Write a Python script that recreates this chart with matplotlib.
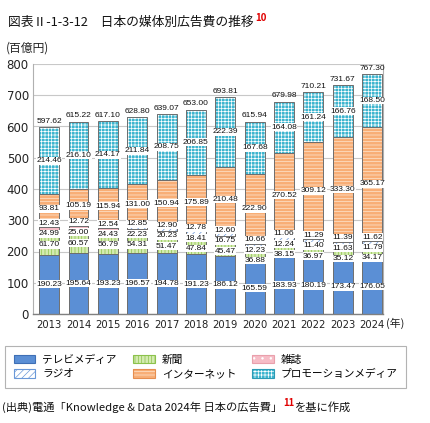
import matplotlib
matplotlib.use("Agg")
import matplotlib.pyplot as plt
from matplotlib.patches import Rectangle
from matplotlib import font_manager
import numpy as np

years = ["2013", "2014", "2015", "2016", "2017", "2018", "2019", "2020", "2021", "2022", "2023", "2024"]
tv = [190.23, 195.64, 193.23, 196.57, 194.78, 191.23, 186.12, 165.59, 183.93, 180.19, 173.47, 176.05]
newspaper = [61.70, 60.57, 56.79, 54.31, 51.47, 47.84, 45.47, 36.88, 38.15, 36.97, 35.12, 34.17]
magazine = [24.99, 25.00, 24.43, 22.23, 20.23, 18.41, 16.75, 12.23, 12.24, 11.40, 11.63, 11.79]
radio = [12.43, 12.72, 12.54, 12.85, 12.90, 12.78, 12.60, 10.66, 11.06, 11.29, 11.39, 11.62]
internet = [93.81, 105.19, 115.94, 131.00, 150.94, 175.89, 210.48, 222.90, 270.52, 309.12, 333.30, 365.17]
promotion = [214.46, 216.10, 214.17, 211.84, 208.75, 206.85, 222.39, 167.68, 164.08, 161.24, 166.76, 168.50]
totals = [597.62, 615.22, 617.10, 628.80, 639.07, 653.00, 693.81, 615.94, 679.98, 710.21, 731.67, 767.30]

names = ["テレビメディア", "新聞", "雑誌", "ラジオ", "インターネット", "プロモーションメディア"]
series = [tv, newspaper, magazine, radio, internet, promotion]
# (face, hatch, hatch colour, legend outline colour)
styles = [
    ("#5b8fd5", None, None, "#3f6fb5"),
    ("#d4ebb0", "|||||", "#8cc24c", "#8cc24c"),
    ("#f6bcc6", "..", "#ffffff", "#e9a0ac"),
    ("#ffffff", "/////", "#6a98d8", "#6a98d8"),
    ("#f8ae76", "-----", "#fde6d2", "#e58e50"),
    ("#3cb4ce", "+++++", "#ffffff", "#2c9ab4"),
]

plt.rcParams["font.family"] = ["Noto Sans CJK JP", "DejaVu Sans"]
plt.rcParams["hatch.linewidth"] = 0.5


def has_font(name):
    try:
        font_manager.findfont(name, fallback_to_default=False)
        return True
    except Exception:
        return False


if has_font("Liberation Sans Narrow"):
    lab_family, lab_size = ["Liberation Sans Narrow"], 7.0
else:
    lab_family, lab_size = ["Liberation Sans"], 6.0

fig = plt.figure(figsize=(4.31, 4.23), dpi=100)
ax = fig.add_axes([33 / 431, 1 - 314 / 423, 350 / 431, 250 / 423])

x = np.arange(len(years))
w = 0.68
bottom = np.zeros(len(years))
for vals, (face, hatch, hc, oc) in zip(series, styles):
    vals = np.array(vals)
    if hatch:
        ax.bar(x, vals, w, bottom=bottom, color=face, hatch=hatch,
               edgecolor=hc, linewidth=0, zorder=2)
    else:
        ax.bar(x, vals, w, bottom=bottom, color=face, linewidth=0, zorder=2)
    ax.bar(x, vals, w, bottom=bottom, facecolor="none", edgecolor="#6e6e6e",
           linewidth=0.7, zorder=3)
    bottom = bottom + vals

# label placement with simple de-overlap
gap = 33.0
for i in range(len(years)):
    vals = [s[i] for s in series]
    cum = np.cumsum([0] + vals)
    centers = [(cum[k] + cum[k + 1]) / 2 for k in range(len(vals))]
    clusters = []
    for k in range(len(vals)):
        clusters.append([k])
        while True:
            pos = {}
            for c in clusters:
                m = np.mean([centers[j] for j in c])
                n = len(c)
                for t, j in enumerate(c):
                    pos[j] = m + (t - (n - 1) / 2) * gap
            if len(clusters) > 1:
                a, b = clusters[-2], clusters[-1]
                if pos[b[0]] - pos[a[-1]] < gap:
                    clusters[-2] = a + b
                    clusters.pop()
                    continue
            break
    for k in range(len(vals)):
        ax.text(x[i], pos[k], f"{vals[k]:.2f}", ha="center", va="center",
                fontsize=lab_size, family=lab_family, zorder=5, color="#111111",
                bbox=dict(facecolor="white", edgecolor="none", pad=0.3))
    ax.text(x[i], totals[i] + 8, f"{totals[i]:.2f}", ha="center", va="bottom",
            fontsize=lab_size, family=lab_family, zorder=5, color="#111111")

ax.set_xlim(-0.55, 11.37)
ax.set_ylim(0, 800)
ax.set_yticks(np.arange(0, 801, 100))
ax.set_xticks(x)
ax.set_xticklabels(years)
ax.tick_params(axis="y", length=0, labelsize=8.5, colors="#222222", pad=3)
ax.tick_params(axis="x", length=0, labelsize=7.2, colors="#222222", pad=4)
for lab in ax.get_xticklabels() + ax.get_yticklabels():
    lab.set_family("DejaVu Sans")
ax.grid(axis="y", color="#c8c8c8", linewidth=0.8, zorder=0)
ax.set_axisbelow(True)
for s in ["left", "right"]:
    ax.spines[s].set_color("#b0b0b0")
    ax.spines[s].set_linewidth(0.8)
ax.spines["top"].set_visible(False)
ax.spines["bottom"].set_color("#808080")
ax.spines["bottom"].set_linewidth(1.0)

ax.text(1.01, -0.037, "(年)", transform=ax.transAxes, ha="left", va="center",
        fontsize=7.8, color="#222222")

fig.canvas.draw()
r = fig.canvas.get_renderer()

# titles
tt = fig.text(8 / 431, 1 - 22 / 423, "図表Ⅱ-1-3-12　日本の媒体別広告費の推移", ha="left",
              va="center", fontsize=9.2, color="#111111")
bbt = tt.get_window_extent(r)
fig.text(bbt.x1 / 431 + 0.003, 1 - 18 / 423, "10", ha="left", va="center",
         fontsize=7, color="#e00000", fontweight="bold")
fig.text(6 / 431, 1 - 48 / 423, "(百億円)", ha="left", va="center", fontsize=8.5,
         color="#222222")

# legend
handles = []
order = [0, 3, 1, 4, 2, 5]
for k in order:
    face, hatch, hc, oc = styles[k]
    if hatch:
        fill = Rectangle((0, 0), 1, 1, facecolor=face, hatch=hatch,
                         edgecolor=hc, linewidth=0)
    else:
        fill = Rectangle((0, 0), 1, 1, facecolor=face, linewidth=0)
    outline = Rectangle((0, 0), 1, 1, facecolor="none", edgecolor=oc,
                        linewidth=0.8)
    handles.append((fill, outline))
leg = fig.legend(handles, [names[k] for k in order], ncol=3,
                 loc="upper left", bbox_to_anchor=(5 / 431, 1 - 346 / 423),
                 fontsize=7.7, frameon=True, fancybox=False,
                 edgecolor="#a0a0a0", handlelength=2.05, handleheight=0.85,
                 handletextpad=0.65, columnspacing=1.5, labelspacing=0.4,
                 borderpad=0.8, borderaxespad=0)
leg.get_frame().set_linewidth(0.8)

# source
t1 = fig.text(2 / 431, 1 - 407 / 423, "(出典)電通「Knowledge & Data 2024年 日本の広告費」",
              ha="left", va="center", fontsize=8.1, color="#111111")
bb = t1.get_window_extent(r)
t2 = fig.text(bb.x1 / 431 + 0.002, 1 - 403 / 423, "11", ha="left", va="center",
              fontsize=6.8, color="#e00000", fontweight="bold")
bb2 = t2.get_window_extent(r)
fig.text(bb2.x1 / 431 + 0.002, 1 - 407 / 423, "を基に作成", ha="left", va="center",
         fontsize=8.1, color="#111111")

fig.savefig("out.png", dpi=100)
